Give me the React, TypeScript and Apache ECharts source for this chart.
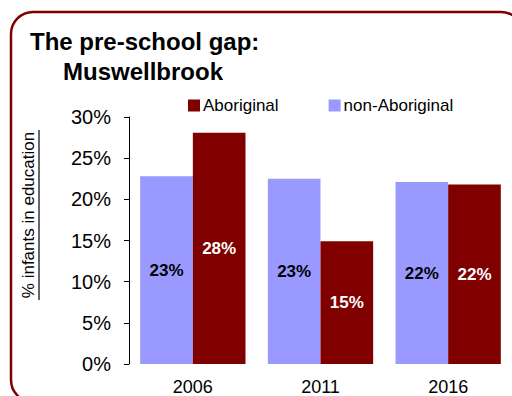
import React, { useEffect, useRef } from "react";
import * as echarts from "echarts";

const categories = ["2006", "2011", "2016"];
const nonAboriginal = [22.8, 22.5, 22.1];
const aboriginal = [28.1, 14.9, 21.8];
const seriesNames = ["Aboriginal", "non-Aboriginal"];
const titleLine1 = "The pre-school gap:";
const titleLine2 = "Muswellbrook";
const yAxisTitle = "% infants in education";

const FONT = "'Liberation Sans', Arial, Helvetica, sans-serif";

export default function App() {
  const ref = useRef<HTMLDivElement>(null);
  useEffect(() => {
    if (!ref.current) return;
    const chart = echarts.init(ref.current, undefined, { renderer: "svg" });
    chart.setOption({
      animation: false,
      backgroundColor: "#ffffff",
      textStyle: { fontFamily: FONT },
      title: [
        {
          text: titleLine1,
          left: 30,
          top: 29,
          padding: 0,
          textStyle: { fontSize: 24, fontWeight: "bold", color: "#000", fontFamily: FONT },
        },
        {
          text: titleLine2,
          left: 63,
          top: 59,
          padding: 0,
          textStyle: { fontSize: 24, fontWeight: "bold", color: "#000", fontFamily: FONT },
        },
      ],
      legend: {
        data: seriesNames,
        left: 188,
        top: 97,
        padding: 0,
        itemWidth: 12,
        itemHeight: 12,
        itemGap: 50,
        icon: "rect",
        textStyle: { fontSize: 17, color: "#000", fontFamily: FONT, padding: [0, 0, 0, -2] },
      },
      grid: { left: 129, top: 117, width: 385, height: 250, containLabel: false },
      xAxis: {
        type: "category",
        data: categories,
        axisLine: { show: false },
        axisTick: { show: false },
        axisLabel: { fontSize: 18, color: "#000", margin: 14, fontFamily: FONT },
      },
      yAxis: {
        type: "value",
        min: 0,
        max: 30,
        interval: 5,
        splitLine: { show: false },
        axisLine: { show: true, lineStyle: { color: "#000", width: 1 } },
        axisTick: { show: true, length: 5, lineStyle: { color: "#000" } },
        axisLabel: {
          fontSize: 20,
          color: "#000",
          margin: 18,
          fontFamily: FONT,
          formatter: (v: number) => `${v}%`,
        },
      },
      series: [
        {
          name: "non-Aboriginal",
          type: "bar",
          data: nonAboriginal,
          barGap: "0%",
          barCategoryGap: "17.5%",
          itemStyle: { color: "#9999FF" },
          label: {
            show: true,
            position: "inside",
            fontSize: 17,
            fontWeight: "bold",
            color: "#000",
            fontFamily: FONT,
            formatter: (p: any) => `${Math.round(p.value)}%`,
          },
        },
        {
          name: "Aboriginal",
          type: "bar",
          data: aboriginal,
          barGap: "0%",
          barCategoryGap: "17.5%",
          itemStyle: { color: "#800000" },
          label: {
            show: true,
            position: "inside",
            fontSize: 17,
            fontWeight: "bold",
            color: "#fff",
            fontFamily: FONT,
            formatter: (p: any) => `${Math.round(p.value)}%`,
          },
        },
      ],
      graphic: [
        {
          type: "rect",
          shape: { x: 11, y: 12, width: 512, height: 390, r: 22 },
          style: { fill: "none", stroke: "#800000", lineWidth: 2.5 },
          silent: true,
        },
        {
          type: "text",
          x: 28,
          y: 215,
          rotation: Math.PI / 2,
          style: {
            text: yAxisTitle,
            fontSize: 17,
            fontFamily: FONT,
            fill: "#000",
            align: "center",
            verticalAlign: "middle",
          },
        },
        {
          type: "line",
          shape: { x1: 39, y1: 130, x2: 39, y2: 300 },
          style: { stroke: "#000", lineWidth: 1.2 },
        },
      ],
    });
    return () => chart.dispose();
  }, []);
  return (
    <div
      ref={ref}
      style={{ position: "fixed", left: 0, top: 0, width: 512, height: 396 }}
    />
  );
}
